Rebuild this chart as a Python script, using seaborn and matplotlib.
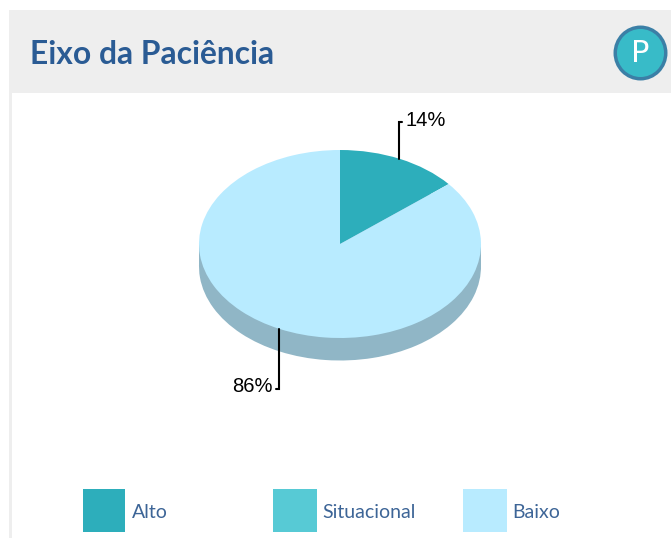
import numpy as np
import seaborn as sns
import matplotlib
matplotlib.use("Agg")
import matplotlib.pyplot as plt
from matplotlib.patches import Rectangle, Ellipse

categories = ['Alto', 'Situacional', 'Baixo']
values = [14, 0, 86]
colors = ['#2DAEBB', '#57CAD5', '#B8EBFF']
SIDE_COLOR = '#90B6C6'
TITLE = 'Eixo da Paciência'
TITLE_COLOR = '#2A5B94'
LEGEND_TEXT = '#3D6597'

W, H = 671, 538
CX, CY, RX, RY, DEPTH = 340, 244, 141, 94, 22.5

sns.set_theme(style='white')
plt.rcParams['font.family'] = ['Lato', 'DejaVu Sans']

fig = plt.figure(figsize=(W / 100, H / 100), dpi=100, facecolor='white')

# pixel coordinates overlay for the page furniture
bg = fig.add_axes([0, 0, 1, 1], zorder=0)
bg.set_xlim(0, W)
bg.set_ylim(H, 0)
bg.axis('off')
bg.add_patch(Rectangle((8.5, 10), W - 8.5, 83, fc='#EEEEEE', ec='none'))
bg.add_patch(Rectangle((8.5, 93), 3, H - 93, fc='#EEEEEE', ec='none'))
bg.text(30, 54, TITLE, color=TITLE_COLOR, fontsize=22.9, fontweight='bold', va='center', ha='left')

# icon
bg.add_patch(Ellipse((640.5, 53), 50.5, 51.5, fc='#38BBC8', ec='#3B7FA6', lw=2.5))
bg.text(640, 53.5, 'P', color='white', fontsize=22, va='center', ha='center',
        family='DejaVu Sans')

# pie, squashed by letting the axes be wider than tall
top = CY - RY
bottom = CY + RY + DEPTH
ax = fig.add_axes([(CX - RX) / W, 1 - bottom / H, 2 * RX / W, (bottom - top) / H], zorder=1)
d = DEPTH / RY
flat = dict(edgecolor='none', linewidth=0)
ax.pie(values, colors=[SIDE_COLOR] * 3, startangle=90, counterclock=False, center=(0, -d), radius=1,
       wedgeprops=flat)
ax.add_patch(Rectangle((-1, -d), 2, d, fc=SIDE_COLOR, ec='none'))
ax.pie(values, colors=colors, startangle=90, counterclock=False, center=(0, 0), radius=1,
       wedgeprops=flat)
ax.set_aspect('auto')
ax.set_xlim(-1, 1)
ax.set_ylim(-1 - d, 1)
ax.axis('off')

# leader lines, from the middle of each wedge
fg = fig.add_axes([0, 0, 1, 1], zorder=2)
fg.set_xlim(0, W)
fg.set_ylim(H, 0)
fg.axis('off')
fg.patch.set_alpha(0)

start = 0
for v in values:
    if v > 0:
        mid = np.radians((start + v / 2) * 3.6)
        x = CX + RX * np.sin(mid) - 1
        y = CY - RY * np.cos(mid)
        label = '{}%'.format(v)
        if np.cos(mid) > 0:
            y2 = y - 37
            fg.plot([x, x, x + 3], [y, y2, y2], color='black', lw=1.5, solid_joinstyle='miter')
            fg.text(x + 6, y2 - 1, label, fontsize=14.5, color='black', ha='left', va='center',
                    family='Liberation Sans')
        else:
            y2 = y + 60
            fg.plot([x, x, x - 3], [y, y2, y2], color='black', lw=1.5, solid_joinstyle='miter')
            fg.text(x - 6.5, y2 - 2.5, label, fontsize=14.5, color='black', ha='right', va='center',
                    family='Liberation Sans')
    start += v

# legend
legend_x = [83, 273, 463]
legend_w = [42, 44, 44]
legend_tx = [132, 322, 512.5]
for x, w, tx, name, c in zip(legend_x, legend_w, legend_tx, categories, colors):
    fg.add_patch(Rectangle((x, 489), w, 43, fc=c, ec='none'))
    fg.text(tx, 512, name, color=LEGEND_TEXT, fontsize=14, va='center', ha='left')

fig.savefig('out.png', dpi=100)
